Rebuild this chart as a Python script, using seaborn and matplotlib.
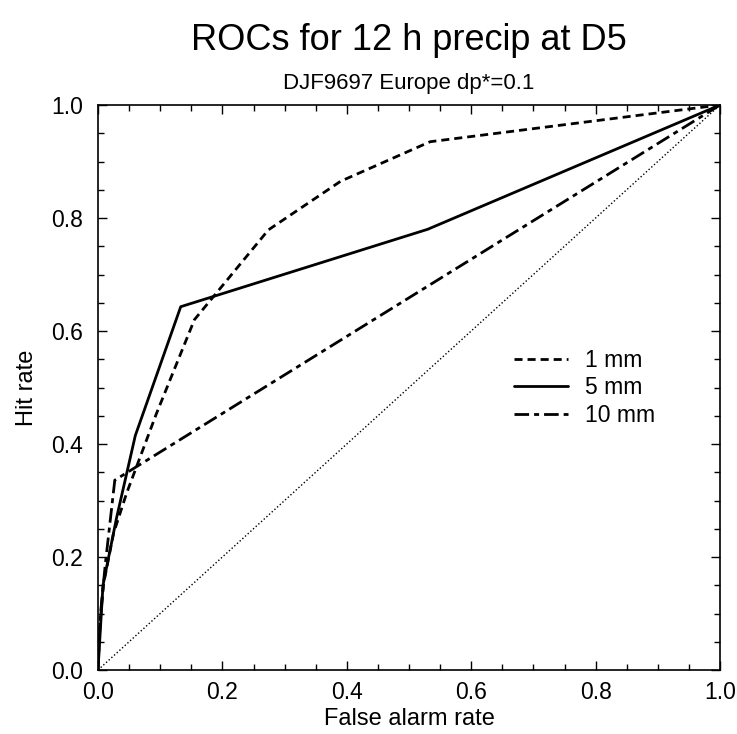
import matplotlib
matplotlib.use("Agg")
import matplotlib.pyplot as plt
import seaborn as sns
import pandas as pd
from matplotlib.ticker import MultipleLocator

# ---- data ----
far_1mm = [0.0, 0.003, 0.009, 0.025, 0.046, 0.094, 0.155, 0.274, 0.39, 0.534, 1.0]
hit_1mm = [0.0, 0.08, 0.153, 0.242, 0.313, 0.454, 0.62, 0.779, 0.865, 0.935, 1.0]

far_5mm = [0.0, 0.008, 0.03, 0.06, 0.133, 0.53, 1.0]
hit_5mm = [0.0, 0.15, 0.27, 0.415, 0.643, 0.78, 1.0]

far_10mm = [0.0, 0.004, 0.012, 0.027, 1.0]
hit_10mm = [0.0, 0.10, 0.19, 0.336, 1.0]

series_labels = ["1 mm", "5 mm", "10 mm"]
diag = [0.0, 1.0]

sns.set_style("ticks")
plt.rcParams["font.family"] = ["Liberation Sans", "DejaVu Sans"]
plt.rcParams["lines.scale_dashes"] = False
for k in ["text.color", "axes.labelcolor", "xtick.color", "ytick.color", "axes.edgecolor"]:
    plt.rcParams[k] = "black"

frames = []
for lab, fx, hy in zip(series_labels, [far_1mm, far_5mm, far_10mm], [hit_1mm, hit_5mm, hit_10mm]):
    frames.append(pd.DataFrame({"far": fx, "hit": hy, "thr": lab}))
df = pd.concat(frames, ignore_index=True)

fig = plt.figure(figsize=(7.37, 7.34), dpi=100)
ax = fig.add_axes([98 / 737, 1 - 670 / 734, 622 / 737, 565 / 734])

dash_map = {"1 mm": (5.8, 3.6), "5 mm": "", "10 mm": (10.5, 3.6, 3.6, 3.6)}
sns.lineplot(data=df, x="far", y="hit", hue="thr", style="thr",
             palette=["black"] * 3, dashes=dash_map, estimator=None, sort=False,
             linewidth=2.0, ax=ax, legend=True)

# no-skill diagonal
sns.lineplot(x=diag, y=diag, color="black", linestyle=(0, (1, 1.6)), linewidth=1.0, ax=ax,
             legend=False, estimator=None)

ax.set_xlim(0, 1)
ax.set_ylim(0, 1)
ax.xaxis.set_major_locator(MultipleLocator(0.2))
ax.yaxis.set_major_locator(MultipleLocator(0.2))
ax.xaxis.set_minor_locator(MultipleLocator(0.05))
ax.yaxis.set_minor_locator(MultipleLocator(0.05))
ax.tick_params(which="both", direction="in", top=True, right=True, width=1.0, color="black")
ax.tick_params(which="major", length=6.5, labelsize=16.5)
ax.tick_params(axis="x", which="major", pad=8)
ax.tick_params(axis="y", which="major", pad=11)
ax.tick_params(which="minor", length=4)
for s in ax.spines.values():
    s.set_visible(True)
    s.set_linewidth(1.2)
    s.set_color("black")

ax.set_xlabel("False alarm rate", fontsize=17, labelpad=3)
ax.set_ylabel("Hit rate", fontsize=17, labelpad=9)

handles, labels = ax.get_legend_handles_labels()
leg = ax.legend(handles, labels, loc="upper left", bbox_to_anchor=(0.636, 0.605), frameon=False,
                fontsize=16.5, handlelength=2.35, handletextpad=0.75, labelspacing=0.2)

fig.text((98 + 720) / 2 / 737, 1 - 40 / 734, "ROCs for 12 h precip at D5", ha="center", va="center",
         fontsize=26)
fig.text((98 + 720) / 2 / 737, 1 - 83 / 734, "DJF9697 Europe dp*=0.1", ha="center", va="center",
         fontsize=16)

fig.savefig("out.png", dpi=100)
